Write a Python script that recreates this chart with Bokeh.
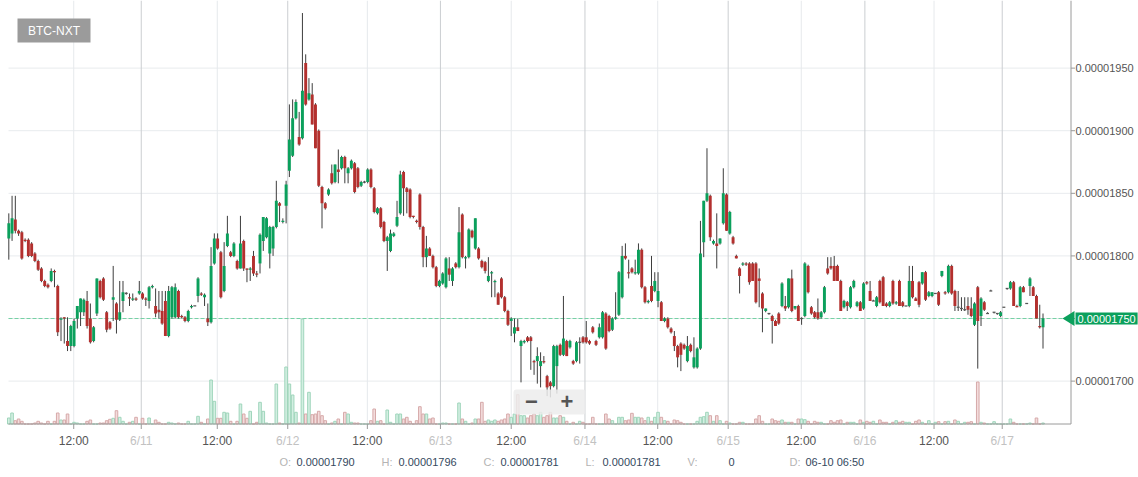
import numpy as np
from bokeh.plotting import figure
from bokeh.models import (Range1d, Label, LabelSet, ColumnDataSource, BoxAnnotation, PolyAnnotation)
from bokeh.embed import file_html
from bokeh.resources import INLINE
from bokeh.core.properties import value

# ---------------- data (prices in satoshi = 1e-8 BTC) ----------------
UNIT = 1e-8
opens = [
    1814, 1818, 1829, 1820, 1819, 1813, 1813, 1810, 1802, 1796,
    1790, 1780, 1777, 1780, 1788, 1776, 1749, 1751, 1732, 1728,
    1728, 1750, 1755, 1755, 1764, 1750, 1732, 1754, 1780, 1782,
    1755, 1747, 1765, 1762, 1749, 1764, 1770, 1767, 1765, 1766,
    1770, 1770, 1766, 1764, 1775, 1760, 1757, 1756, 1764, 1736,
    1751, 1751, 1772, 1752, 1751, 1748, 1759, 1760, 1768, 1770,
    1767, 1750, 1747, 1794, 1814, 1803, 1772, 1808, 1803, 1800,
    1796, 1790, 1812, 1790, 1789, 1800, 1786, 1794, 1812, 1815,
    1802, 1806, 1823, 1842, 1827, 1840, 1868, 1880, 1910, 1895,
    1894, 1954, 1925, 1929, 1921, 1900, 1855, 1842, 1849, 1866,
    1859, 1869, 1870, 1879, 1866, 1870, 1874, 1870, 1856, 1859,
    1859, 1869, 1854, 1834, 1838, 1827, 1812, 1804, 1816, 1824,
    1834, 1867, 1854, 1853, 1832, 1828, 1849, 1823, 1799, 1806,
    1800, 1791, 1776, 1778, 1775, 1790, 1780, 1794, 1791, 1833,
    1798, 1799, 1820, 1806, 1806, 1796, 1795, 1780, 1786, 1779,
    1770, 1782, 1767, 1756, 1748, 1738, 1743, 1728, 1731, 1735,
    1735, 1716, 1716, 1712, 1716, 1704, 1699, 1696, 1712, 1729,
    1721, 1732, 1727, 1716, 1716, 1731, 1735, 1735, 1732, 1743,
    1732, 1735, 1735, 1754, 1752, 1741, 1750, 1753, 1767, 1800,
    1787, 1790, 1786, 1786, 1805, 1775, 1763, 1776, 1772, 1764,
    1763, 1748, 1750, 1742, 1736, 1728, 1730, 1729, 1716, 1729,
    1711, 1711, 1726, 1811, 1844, 1848, 1810, 1810, 1810, 1826,
    1849, 1818, 1815, 1800, 1790, 1793, 1794, 1794, 1794, 1794,
    1782, 1770, 1756, 1754, 1752, 1748, 1754, 1760, 1760, 1759,
    1782, 1758, 1760, 1750, 1752, 1792, 1759, 1755, 1755, 1751,
    1755, 1790, 1792, 1792, 1792, 1780, 1759, 1763, 1759, 1775,
    1760, 1763, 1758, 1779, 1772, 1764, 1760, 1780, 1783, 1762,
    1760, 1780, 1762, 1780, 1763, 1760, 1760, 1780, 1766, 1779,
    1778, 1787, 1768, 1768, 1770, 1771, 1784, 1771, 1771, 1792,
    1772, 1759, 1758, 1757, 1760, 1758, 1745, 1775, 1752, 1763,
    1754, 1772, 1755, 1754, 1752, 1759, 1774, 1774, 1779, 1760,
    1760, 1775, 1762, 1776, 1775, 1768, 1744, 1743,
]
highs = [
    1834, 1848, 1848, 1821, 1820, 1814, 1814, 1811, 1803, 1797,
    1791, 1781, 1778, 1790, 1789, 1777, 1751, 1751, 1751, 1745,
    1750, 1760, 1766, 1766, 1772, 1762, 1744, 1782, 1781, 1783,
    1756, 1748, 1792, 1763, 1780, 1780, 1771, 1770, 1770, 1767,
    1780, 1771, 1767, 1776, 1777, 1774, 1772, 1772, 1772, 1776,
    1776, 1778, 1773, 1753, 1752, 1757, 1761, 1760, 1783, 1771,
    1770, 1762, 1807, 1818, 1818, 1804, 1811, 1832, 1804, 1811,
    1797, 1832, 1813, 1790, 1791, 1804, 1788, 1818, 1831, 1831,
    1824, 1824, 1860, 1843, 1830, 1860, 1921, 1925, 1925, 1915,
    1994, 1961, 1942, 1938, 1922, 1901, 1856, 1843, 1854, 1873,
    1873, 1885, 1880, 1880, 1871, 1877, 1875, 1871, 1860, 1860,
    1870, 1870, 1855, 1839, 1839, 1828, 1816, 1821, 1819, 1844,
    1868, 1868, 1855, 1854, 1832, 1829, 1850, 1824, 1816, 1807,
    1801, 1792, 1781, 1787, 1799, 1799, 1791, 1795, 1839, 1834,
    1800, 1822, 1821, 1830, 1807, 1797, 1796, 1799, 1788, 1781,
    1771, 1783, 1768, 1757, 1751, 1750, 1750, 1733, 1733, 1736,
    1736, 1717, 1727, 1723, 1720, 1705, 1700, 1729, 1729, 1730,
    1768, 1733, 1733, 1717, 1732, 1735, 1736, 1748, 1733, 1744,
    1733, 1746, 1756, 1755, 1753, 1751, 1771, 1788, 1808, 1810,
    1797, 1791, 1797, 1810, 1806, 1776, 1765, 1800, 1787, 1787,
    1764, 1751, 1751, 1743, 1740, 1729, 1731, 1730, 1736, 1730,
    1735, 1727, 1828, 1844, 1886, 1849, 1813, 1834, 1814, 1870,
    1850, 1836, 1816, 1801, 1791, 1795, 1795, 1795, 1795, 1795,
    1790, 1771, 1758, 1754, 1753, 1749, 1755, 1779, 1768, 1782,
    1789, 1760, 1761, 1751, 1795, 1793, 1760, 1756, 1766, 1756,
    1776, 1799, 1799, 1800, 1793, 1781, 1765, 1764, 1776, 1781,
    1764, 1764, 1779, 1780, 1780, 1765, 1768, 1781, 1784, 1763,
    1764, 1781, 1764, 1781, 1764, 1760, 1792, 1792, 1767, 1780,
    1787, 1788, 1772, 1771, 1770, 1772, 1788, 1772, 1793, 1793,
    1773, 1772, 1767, 1767, 1767, 1767, 1763, 1776, 1767, 1764,
    1755, 1773, 1755, 1754, 1756, 1759, 1774, 1780, 1780, 1761,
    1776, 1776, 1762, 1783, 1776, 1769, 1761, 1754,
]
lows = [
    1797, 1812, 1818, 1816, 1797, 1811, 1799, 1799, 1795, 1788,
    1779, 1775, 1774, 1779, 1775, 1736, 1732, 1730, 1724, 1724,
    1727, 1742, 1744, 1752, 1742, 1730, 1731, 1752, 1766, 1764,
    1739, 1741, 1748, 1738, 1748, 1755, 1769, 1760, 1764, 1764,
    1769, 1765, 1760, 1758, 1774, 1751, 1750, 1745, 1736, 1735,
    1750, 1750, 1750, 1750, 1747, 1747, 1758, 1760, 1763, 1768,
    1760, 1744, 1746, 1793, 1805, 1766, 1771, 1807, 1799, 1799,
    1789, 1790, 1788, 1779, 1780, 1784, 1783, 1786, 1804, 1814,
    1790, 1800, 1822, 1827, 1826, 1826, 1863, 1879, 1909, 1888,
    1893, 1920, 1924, 1905, 1886, 1855, 1822, 1837, 1848, 1857,
    1858, 1858, 1869, 1858, 1858, 1869, 1850, 1854, 1855, 1858,
    1858, 1854, 1834, 1833, 1822, 1811, 1788, 1803, 1815, 1823,
    1833, 1832, 1834, 1830, 1830, 1826, 1821, 1791, 1791, 1800,
    1790, 1775, 1775, 1777, 1774, 1780, 1776, 1790, 1790, 1798,
    1790, 1798, 1814, 1805, 1797, 1790, 1786, 1779, 1767, 1767,
    1761, 1766, 1755, 1744, 1736, 1731, 1740, 1699, 1730, 1731,
    1709, 1705, 1698, 1695, 1714, 1688, 1687, 1695, 1690, 1720,
    1720, 1720, 1726, 1713, 1715, 1714, 1730, 1730, 1729, 1738,
    1728, 1734, 1734, 1725, 1739, 1740, 1749, 1752, 1766, 1797,
    1782, 1786, 1785, 1785, 1774, 1762, 1762, 1763, 1771, 1759,
    1748, 1747, 1742, 1738, 1724, 1711, 1708, 1725, 1715, 1723,
    1710, 1710, 1725, 1799, 1843, 1812, 1809, 1790, 1809, 1825,
    1820, 1817, 1809, 1798, 1770, 1792, 1792, 1777, 1780, 1762,
    1759, 1739, 1755, 1753, 1730, 1744, 1745, 1759, 1756, 1758,
    1755, 1757, 1748, 1745, 1751, 1770, 1753, 1750, 1749, 1750,
    1754, 1785, 1789, 1780, 1780, 1756, 1758, 1756, 1758, 1774,
    1759, 1756, 1757, 1777, 1764, 1764, 1759, 1762, 1760, 1759,
    1759, 1761, 1761, 1760, 1759, 1760, 1759, 1766, 1764, 1759,
    1777, 1764, 1767, 1767, 1770, 1760, 1783, 1769, 1770, 1769,
    1756, 1756, 1756, 1756, 1753, 1751, 1744, 1710, 1744, 1756,
    1754, 1772, 1754, 1753, 1751, 1759, 1773, 1773, 1760, 1759,
    1759, 1771, 1762, 1768, 1768, 1750, 1742, 1726,
]
closes = [
    1826, 1830, 1820, 1818, 1798, 1812, 1800, 1800, 1796, 1789,
    1780, 1776, 1775, 1788, 1787, 1739, 1750, 1750, 1728, 1744,
    1748, 1760, 1766, 1765, 1744, 1731, 1743, 1782, 1767, 1765,
    1741, 1742, 1767, 1749, 1755, 1771, 1770, 1766, 1766, 1765,
    1772, 1766, 1765, 1775, 1776, 1754, 1755, 1746, 1736, 1772,
    1775, 1775, 1751, 1751, 1748, 1756, 1760, 1760, 1782, 1769,
    1769, 1747, 1792, 1814, 1806, 1767, 1792, 1818, 1800, 1810,
    1790, 1810, 1790, 1789, 1790, 1786, 1785, 1817, 1831, 1830,
    1823, 1823, 1844, 1840, 1828, 1857, 1893, 1910, 1923, 1889,
    1932, 1921, 1930, 1905, 1886, 1856, 1842, 1838, 1853, 1858,
    1873, 1867, 1879, 1870, 1870, 1876, 1851, 1855, 1859, 1859,
    1869, 1855, 1835, 1838, 1823, 1812, 1815, 1818, 1818, 1831,
    1865, 1854, 1851, 1831, 1831, 1827, 1823, 1799, 1806, 1800,
    1791, 1776, 1780, 1786, 1798, 1785, 1790, 1791, 1819, 1799,
    1799, 1821, 1815, 1830, 1798, 1791, 1788, 1784, 1787, 1780,
    1761, 1767, 1756, 1745, 1750, 1743, 1740, 1732, 1732, 1732,
    1732, 1715, 1720, 1716, 1715, 1695, 1696, 1728, 1728, 1721,
    1734, 1720, 1732, 1714, 1731, 1731, 1731, 1731, 1730, 1739,
    1729, 1743, 1755, 1726, 1740, 1750, 1751, 1787, 1800, 1798,
    1786, 1787, 1787, 1805, 1775, 1763, 1764, 1764, 1780, 1772,
    1748, 1750, 1743, 1739, 1728, 1719, 1721, 1726, 1728, 1724,
    1719, 1726, 1802, 1844, 1850, 1815, 1812, 1808, 1814, 1850,
    1820, 1835, 1810, 1798, 1784, 1794, 1793, 1779, 1780, 1763,
    1780, 1758, 1758, 1754, 1748, 1744, 1746, 1778, 1758, 1782,
    1756, 1760, 1748, 1750, 1794, 1771, 1754, 1751, 1750, 1755,
    1775, 1786, 1790, 1780, 1780, 1756, 1764, 1760, 1775, 1780,
    1763, 1756, 1778, 1778, 1764, 1764, 1767, 1763, 1760, 1760,
    1763, 1762, 1763, 1760, 1760, 1760, 1780, 1767, 1764, 1761,
    1787, 1765, 1771, 1771, 1770, 1761, 1788, 1770, 1792, 1770,
    1760, 1759, 1758, 1757, 1757, 1752, 1762, 1748, 1766, 1757,
    1754, 1772, 1755, 1754, 1755, 1759, 1774, 1779, 1760, 1759,
    1775, 1771, 1762, 1782, 1768, 1750, 1743, 1750,
]
volumes = [
    6, 11, 3.3, 5, 2.7, 0, 0, 0, 1, 2.7,
    1, 0, 2.7, 0, 2.7, 11, 4, 4, 10, 0,
    1.7, 1, 0, 0, 2.7, 4, 0, 0, 1, 1,
    3.3, 4.7, 5.7, 13.3, 6.7, 2.7, 0, 1.7, 2.7, 6.7,
    0, 5.7, 0, 6, 0, 4, 1.7, 0, 0, 1.7,
    1, 0, 1, 0, 0, 2.7, 0, 0, 7.7, 1.7,
    0, 5, 44, 22.7, 5.7, 5.7, 11.7, 11, 2.7, 0,
    2.7, 20, 10, 5.7, 12.7, 0, 1.7, 21.7, 12.7, 1,
    0, 0, 40, 1, 0, 57, 40, 29, 11.7, 1,
    105, 10, 31.7, 9.3, 10, 12.7, 8.3, 3.3, 0, 1,
    2.7, 5, 0, 11.7, 10, 1.7, 1, 1, 0, 0,
    0, 3.3, 15, 2.7, 3.3, 0, 14, 1.7, 0, 10,
    10, 5, 6.7, 2.7, 0, 3.3, 17.3, 10, 10, 5,
    6, 0, 0, 1, 1, 0, 0, 0, 21, 5,
    2.7, 0, 1, 5, 5, 21.7, 2.7, 4, 2.7, 4,
    2.7, 4, 5, 10, 6.7, 10, 29.3, 8.3, 8.3, 6,
    8.3, 10, 8.3, 11.7, 6.7, 8.3, 11.7, 6, 6, 8.3,
    6.7, 2.7, 0, 1.7, 0, 2.7, 1.7, 0, 0, 6.7,
    0, 0, 0, 10, 5, 3.3, 0, 6.7, 6.7, 3.3,
    4, 10.7, 6.7, 6.7, 6, 3.3, 6.7, 2.7, 6.7, 11.7,
    6.7, 3.3, 2.7, 0, 4, 3.3, 1.7, 0, 0, 0,
    0, 2.7, 6.7, 7.3, 11.7, 8.3, 2.7, 8.3, 3.3, 0,
    2.7, 1, 0, 0, 1.7, 1.7, 0, 0, 0, 5,
    8.3, 2.7, 0, 0, 5, 3.3, 2.7, 4, 1.7, 1.7,
    1.7, 0, 5, 5, 4.3, 2.7, 0, 2.7, 1.7, 1.7,
    0, 0, 3.3, 1.7, 3.3, 4, 0, 1.7, 1.7, 1.7,
    0, 4, 1.7, 2.7, 1.7, 2.7, 0, 4, 1.7, 1.7,
    0, 1.7, 3.3, 1.7, 2.7, 1.7, 1.7, 0, 2.7, 4,
    1.7, 0, 3.3, 0, 1.7, 2.3, 0, 2.3, 2.7, 0,
    4, 2.7, 0, 1.7, 1.7, 2.3, 0, 42, 1.7, 1,
    0, 0, 2.3, 0, 0, 0, 0, 5, 1.7, 0,
    0, 0, 0, 1, 0, 6, 0, 1,
]
# x axis: candle-index positions of the time labels
x_tick_pos = [19.9, 40.6, 63.9, 85.5, 109.9, 132.3, 154.0, 176.6, 198.9, 220.5, 242.9, 262.4, 283.6, 304.5]
x_tick_labels = ["12:00", "6/11", "12:00", "6/12", "12:00", "6/13", "12:00", "6/14",
                 "12:00", "6/15", "12:00", "6/16", "12:00", "6/17"]
y_ticks = [1700, 1750, 1800, 1850, 1900, 1950]
last_price = 1750
pair_name = "BTC-NXT"
info_keys = ["O:", "H:", "C:", "L:", "V:", "D:"]
info_vals = ["0.00001790", "0.00001796", "0.00001781", "0.00001781", "0", "06-10 06:50"]

# ---------------- styling / layout ----------------
FONT = "Liberation Sans"
GREEN, RED, FLAT, WICK = "#0ba05c", "#b3302e", "#555555", "#3d3d3d"
W, H = 1138, 477
PX_PER_CANDLE, CANDLE0_PX = 3.2625, 8.3     # horizontal scale
PRICE_PER_PX, PRICE_AT_TOP = 0.7987, 2004.0  # vertical scale (satoshi)
AREA_L, AREA_R, AREA_T, AREA_B = 8, 1070.5, 0, 423.5   # plotting area (page pixels)


def xp(px):  # page pixel -> x data (candle index)
    return (px - CANDLE0_PX) / PX_PER_CANDLE


def yp(py):  # page pixel -> price (BTC)
    return (PRICE_AT_TOP - py * PRICE_PER_PX) * UNIT


n = min(len(opens), len(highs), len(lows), len(closes), len(volumes))
o = np.array(opens[:n], float)
hh = np.array(highs[:n], float)
ll = np.array(lows[:n], float)
c = np.array(closes[:n], float)
vol = np.array(volumes[:n], float)
idx = np.arange(n)

col = np.where(c > o, GREEN, np.where(c < o, RED, FLAT))
top = np.maximum(o, c)
bot = np.minimum(o, c)
small = (top - bot) < 1.0
mid = (top + bot) / 2
top = np.where(small, mid + 0.5, top)
bot = np.where(small, mid - 0.5, bot)
upv = c >= o
vfill = np.where(upv, "#d3efe2", "#f3dcdc")
vline = np.where(upv, "#9fd5bb", "#d6a9a9")

src = ColumnDataSource(dict(x=idx, top=top * UNIT, bottom=bot * UNIT, high=hh * UNIT,
                            low=ll * UNIT, color=col, vol=vol, vfill=vfill, vline=vline))

p = figure(width=W, height=H, x_range=Range1d(xp(0), xp(W)), y_range=Range1d(yp(H), yp(0)),
           output_backend="svg", toolbar_location=None, tools="", title=None,
           x_axis_location=None, y_axis_location=None,
           min_border_left=0, min_border_right=0, min_border_top=0, min_border_bottom=0)
p.outline_line_color = None
p.background_fill_color = "white"
p.border_fill_color = "white"
p.xgrid.visible = False
p.ygrid.visible = False
# volume scale: 1 unit = 1 px above the x axis line
p.extra_y_ranges = {"vol": Range1d(-(H - AREA_B), AREA_B)}

# ---- grid lines (drawn from the tick lists) ----
yt = [v * UNIT for v in y_ticks]
p.segment(x0=[xp(AREA_L)] * len(yt), x1=[xp(AREA_R)] * len(yt), y0=yt, y1=yt,
          line_color="#e8ebee", line_width=1)
gcol = ["#e6e9ec" if ":" in lab else "#cbced1" for lab in x_tick_labels]
p.segment(x0=x_tick_pos, x1=x_tick_pos, y0=[yp(AREA_B)] * len(x_tick_pos),
          y1=[yp(AREA_T)] * len(x_tick_pos), line_color=gcol, line_width=1)

# ---- last price dashed line ----
p.segment(x0=[xp(AREA_L)], x1=[xp(1062)], y0=[last_price * UNIT], y1=[last_price * UNIT],
          line_color="#74d1a4", line_dash="4 2", line_width=1)

# ---- volume, wicks, bodies ----
p.vbar(x="x", width=0.8, top="vol", bottom=0, y_range_name="vol", fill_color="vfill",
       line_color="vline", line_width=1, source=src)
p.segment(x0="x", y0="low", x1="x", y1="high", line_color=WICK, line_width=1, source=src)
p.vbar(x="x", width=0.9, top="top", bottom="bottom", fill_color="color", line_color=None, source=src)

# ---- axes lines and ticks ----
p.segment(x0=[xp(AREA_L)], x1=[xp(AREA_R)], y0=[yp(AREA_B)], y1=[yp(AREA_B)], line_color="#9a9a9a")
p.segment(x0=[xp(AREA_R)], x1=[xp(AREA_R)], y0=[yp(AREA_B)], y1=[yp(AREA_T)], line_color="#9a9a9a")
p.segment(x0=x_tick_pos, x1=x_tick_pos, y0=[yp(AREA_B)] * len(x_tick_pos),
          y1=[yp(AREA_B + 5)] * len(x_tick_pos), line_color="#9a9a9a")
p.segment(x0=[xp(AREA_R)] * len(yt), x1=[xp(AREA_R + 4)] * len(yt), y0=yt, y1=yt,
          line_color="#9a9a9a")

# x tick labels
xl_src = ColumnDataSource(dict(x=x_tick_pos, y=[yp(440)] * len(x_tick_pos), text=x_tick_labels,
                               color=["#555555" if ":" in t else "#c2c2c2" for t in x_tick_labels]))
p.add_layout(LabelSet(x="x", y="y", text="text", source=xl_src, text_color="color",
                      text_align="center", text_baseline="middle", text_font_size="12px",
                      text_font=value(FONT)))

# y tick labels (right side)
yl = [v for v in y_ticks if v != last_price]
yl_src = ColumnDataSource(dict(x=[xp(1075)] * len(yl), y=[v * UNIT for v in yl],
                               text=["%.8f" % (v * UNIT) for v in yl]))
p.add_layout(LabelSet(x="x", y="y", text="text", source=yl_src, text_color="#555555",
                      text_align="left", text_baseline="middle", text_font_size="11px",
                      text_font=value(FONT)))

# last price tag
p.add_layout(PolyAnnotation(xs=[xp(1062), xp(1074), xp(1074)],
                            ys=[yp(318), yp(310.5), yp(325.5)],
                            fill_color=GREEN, fill_alpha=1, line_color=None))
p.add_layout(Label(x=xp(1075), y=last_price * UNIT, text="%.8f" % (last_price * UNIT),
                   text_color="white", text_align="left", text_baseline="middle",
                   text_font_size="11px", text_font=FONT, background_fill_color=GREEN,
                   background_fill_alpha=1, padding=2))

# pair button
p.add_layout(BoxAnnotation(left=xp(17), right=xp(90), top=yp(18), bottom=yp(42),
                           fill_color="#9b9b9b", fill_alpha=1, line_color=None))
p.add_layout(Label(x=xp(53.5), y=yp(30), text=pair_name, text_color="white",
                   text_align="center", text_baseline="middle", text_font_size="12px",
                   text_font=FONT))

# zoom buttons
p.add_layout(BoxAnnotation(left=xp(513), right=xp(585), top=yp(389), bottom=yp(414),
                           fill_color="#ececec", fill_alpha=0.85, line_color=None,
                           border_radius=3))
for sym, px in (("\u2212", 531), ("+", 566.5)):
    p.add_layout(Label(x=xp(px), y=yp(401), text=sym, text_color="#555555",
                       text_align="center", text_baseline="middle", text_font_size="22px",
                       text_font_style="bold", text_font=FONT))

# info row
key_px = [279, 381, 483, 585, 687, 789]
val_px = [296, 398, 500, 602, 728, 805]
info_src = ColumnDataSource(dict(
    x=[xp(v) for v in key_px] + [xp(v) for v in val_px],
    y=[yp(461)] * (2 * len(info_keys)),
    text=info_keys + info_vals,
    color=["#b4b4b4"] * len(info_keys) + ["#34495e"] * len(info_vals)))
p.add_layout(LabelSet(x="x", y="y", text="text", source=info_src, text_color="color",
                      text_align="left", text_baseline="middle", text_font_size="11px",
                      text_font=value(FONT)))

open("out.html", "w").write(file_html(p, INLINE))
